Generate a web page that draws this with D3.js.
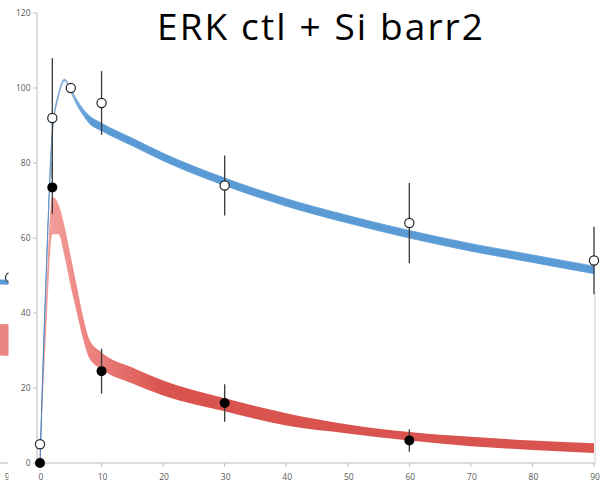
<!DOCTYPE html>
<html><head><meta charset="utf-8">
<script src="https://cdn.jsdelivr.net/npm/d3@7"></script>
<style>html,body{margin:0;padding:0;background:#fff;}svg{display:block;}</style>
</head><body>
<svg id="c" width="615" height="485"></svg>
<script>
// ---- data ----
const title = "ERK ctl + Si barr2";
const xTicks = [0,10,20,30,40,50,60,70,80,90];
const yTicks = [0,20,40,60,80,100,120];

// blue (control) model band
const blueX     = [0, 1, 2, 3, 4, 5, 6, 7, 8, 10, 15, 20, 30, 40, 50, 60, 70, 80, 90];
const blueUpper = [0.3, 50.5, 88.5, 98.5, 102.4, 99.8, 96.8, 94.4, 92.6, 90.6, 86.6, 82.6, 76, 70.5, 66, 62, 58.5, 55.5, 52.5];
const blueLower = [0, 49.5, 87.5, 97.7, 101.8, 99, 95.4, 92.8, 90.6, 88.6, 84.6, 80.6, 74, 68.5, 64, 60, 56.5, 53.5, 50.5];
// blue observed points
const blueObsX   = [0, 2, 5, 10, 30, 60, 90];
const blueObsY   = [5, 92, 100, 96, 74, 64, 54];
const blueObsErr = [0, 16, 0, 8.5, 8, 10.7, 9];

// red (Si barr2) model band
const redX     = [0, 1, 2, 3, 4, 5, 6, 7, 8, 10, 15, 20, 30, 40, 50, 60, 70, 80, 90];
const redUpper = [0, 45, 71, 69, 63, 55, 47, 39, 33, 29.5, 25.5, 22, 17.3, 13.3, 10.3, 8.3, 7, 6, 5.3];
const redLower = [0, 35, 61, 61, 55, 47, 40, 33, 28, 25, 21.2, 18, 13.8, 10, 7.9, 6, 4.5, 3.5, 2.7];
// red observed points
const redObsX   = [0, 2, 10, 30, 60];
const redObsY   = [0, 73.5, 24.5, 16, 6];
const redObsErr = [0, 7, 6, 5, 3];

// neighbouring (cropped) chart remnants at the left edge
const nbX      = [80, 90];
const nbBlue   = [48.6, 48.2];
const nbRedUp  = [37.5, 37];
const nbRedLo  = [29.5, 28.5];
const nbObsX   = [90];
const nbObsY   = [49.5];

// ---- drawing ----
const svg = d3.select("#c");
const x = d3.scaleLinear().domain([0,90]).range([40,594]);
const y = d3.scaleLinear().domain([0,120]).range([463,13]);
const xn = d3.scaleLinear().domain([0,90]).range([10-554,10]);

const defs = svg.append("defs");
defs.append("clipPath").attr("id","nbclip").append("rect").attr("x",0).attr("y",0).attr("width",8.5).attr("height",485);
const gR = defs.append("linearGradient").attr("id","gr").attr("gradientUnits","userSpaceOnUse")
  .attr("x1",x(0)).attr("x2",x(20)).attr("y1",0).attr("y2",0);
gR.append("stop").attr("offset","0").attr("stop-color","#f4a4a1");
gR.append("stop").attr("offset","0.3").attr("stop-color","#ef8c88");
gR.append("stop").attr("offset","1").attr("stop-color","#d9534f");
const gB = defs.append("linearGradient").attr("id","gb").attr("gradientUnits","userSpaceOnUse")
  .attr("x1",x(0)).attr("x2",x(12)).attr("y1",0).attr("y2",0);
gB.append("stop").attr("offset","0").attr("stop-color","#3f78b8");
gB.append("stop").attr("offset","0.35").attr("stop-color","#8db6e0");
gB.append("stop").attr("offset","0.7").attr("stop-color","#5b9bd5");
gB.append("stop").attr("offset","1").attr("stop-color","#5b9bd5");

// neighbour remnants
const nb = svg.append("g").attr("clip-path","url(#nbclip)");
nb.append("path").datum(nbX.map((d,i)=>[d,nbRedUp[i],nbRedLo[i]]))
  .attr("d", d3.area().x(d=>xn(d[0])).y0(d=>y(d[2])).y1(d=>y(d[1])))
  .attr("fill","#e88682");
nb.append("path").datum(nbX.map((d,i)=>[d,nbBlue[i]]))
  .attr("d", d3.line().x(d=>xn(d[0])).y(d=>y(d[1])))
  .attr("fill","none").attr("stroke","#5b9bd5").attr("stroke-width",5);
nb.selectAll("circle").data(nbObsX.map((d,i)=>[d,nbObsY[i]])).join("circle")
  .attr("cx",d=>xn(d[0])).attr("cy",d=>y(d[1])).attr("r",4.5)
  .attr("fill","#fff").attr("stroke","#222").attr("stroke-width",1.2);
nb.append("line").attr("x1",0).attr("x2",8.5).attr("y1",463).attr("y2",463).attr("stroke","#bbb");
nb.append("text").attr("x",xn(90)).attr("y",480).attr("text-anchor","middle")
  .attr("font-family","Open Sans, sans-serif").attr("font-size",9).attr("fill","#595959").text("90");

// title
svg.append("text").attr("x",320).attr("y",39.5).attr("text-anchor","middle")
  .attr("font-family","'Open Sans', sans-serif").attr("font-size",37).attr("font-weight",400).attr("fill","#000")
  .attr("textLength",326).attr("lengthAdjust","spacing")
  .text(title);

// axes
svg.append("line").attr("x1",37).attr("x2",37).attr("y1",y(120)).attr("y2",463).attr("stroke","#bdbdbd").attr("stroke-width",1);
svg.append("line").attr("x1",37).attr("x2",595).attr("y1",463).attr("y2",463).attr("stroke","#bdbdbd").attr("stroke-width",1);
svg.append("line").attr("x1",595).attr("x2",595).attr("y1",292).attr("y2",463).attr("stroke","#d0d0d0").attr("stroke-width",1);

const yAxis = svg.append("g");
yAxis.selectAll("line").data(yTicks).join("line")
  .attr("x1",33).attr("x2",37).attr("y1",d=>y(d)).attr("y2",d=>y(d)).attr("stroke","#bdbdbd");
yAxis.selectAll("text").data(yTicks).join("text")
  .attr("x",30.5).attr("y",d=>y(d)+3).attr("text-anchor","end")
  .attr("font-family","Open Sans, sans-serif").attr("font-size",8.5).attr("fill","#595959").text(d=>d);

const xAxis = svg.append("g");
xAxis.selectAll("line").data(xTicks).join("line")
  .attr("x1",d=>x(d)).attr("x2",d=>x(d)).attr("y1",463).attr("y2",467).attr("stroke","#bdbdbd");
xAxis.selectAll("text").data(xTicks).join("text")
  .attr("x",d=>x(d)+1).attr("y",480).attr("text-anchor","middle")
  .attr("font-family","Open Sans, sans-serif").attr("font-size",8.5).attr("fill","#595959").text(d=>d);

// bands
const area = d3.area().curve(d3.curveMonotoneX).x(d=>x(d[0])).y0(d=>y(d[2])).y1(d=>y(d[1]));
svg.append("path").datum(redX.map((d,i)=>[d,redUpper[i],redLower[i]]))
  .attr("d",area).attr("fill","url(#gr)");
svg.append("path").datum(blueX.map((d,i)=>[d,blueUpper[i],blueLower[i]]))
  .attr("d",area).attr("fill","url(#gb)").attr("stroke","url(#gb)").attr("stroke-width",0.8);

// error bars
function errBars(xs, ys, es){
  svg.append("g").selectAll("line").data(xs.map((d,i)=>[d,ys[i],es[i]]).filter(d=>d[2]>0)).join("line")
    .attr("x1",d=>x(d[0])).attr("x2",d=>x(d[0]))
    .attr("y1",d=>y(d[1]+d[2])).attr("y2",d=>y(d[1]-d[2]))
    .attr("stroke","#3a3a3a").attr("stroke-width",1.3);
}
errBars(blueObsX, blueObsY, blueObsErr);
errBars(redObsX, redObsY, redObsErr);

// points
svg.append("g").selectAll("circle").data(redObsX.map((d,i)=>[d,redObsY[i]])).join("circle")
  .attr("cx",d=>x(d[0])).attr("cy",d=>y(d[1])).attr("r",5).attr("fill","#000");
svg.append("g").selectAll("circle").data(blueObsX.map((d,i)=>[d,blueObsY[i]])).join("circle")
  .attr("cx",d=>x(d[0])).attr("cy",d=>y(d[1])).attr("r",4.6)
  .attr("fill","#fff").attr("stroke","#222").attr("stroke-width",1.2);
</script>
</body></html>
